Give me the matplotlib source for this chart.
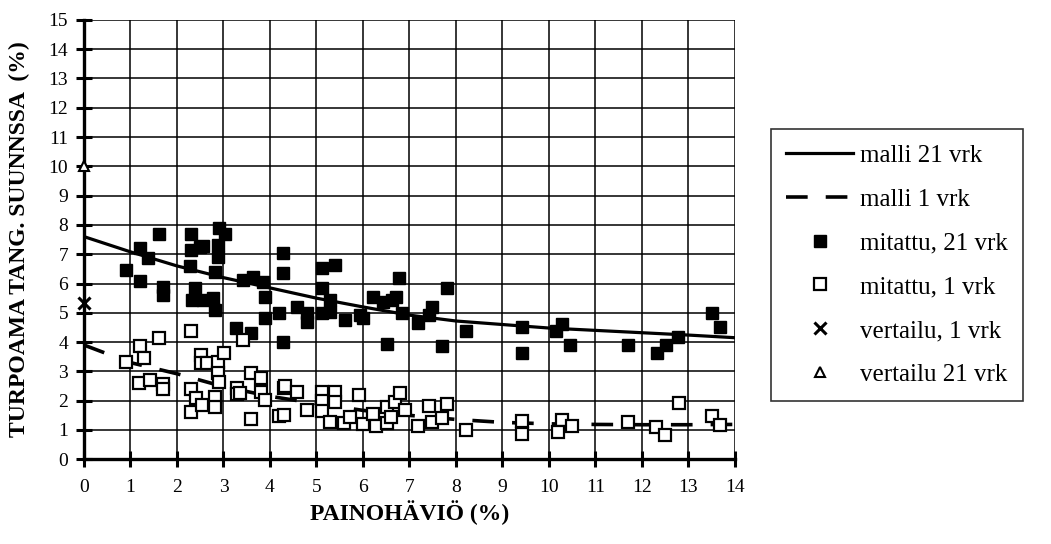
import numpy as np
import matplotlib
matplotlib.use("Agg")
import matplotlib.pyplot as plt

plt.rcParams['font.family'] = ['Liberation Serif', 'DejaVu Serif']

# model curves read at integer weight loss values
model_x = [0, 1, 2, 3, 4, 5, 6, 7, 8, 9, 10, 11, 12, 13, 14]
model_21 = [7.6, 7.08, 6.6, 6.2, 5.85, 5.5, 5.2, 4.92, 4.72, 4.6, 4.48, 4.4, 4.32, 4.24, 4.15]
model_1 = [3.9, 3.3, 2.92, 2.48, 2.15, 1.9, 1.67, 1.5, 1.36, 1.26, 1.21, 1.19, 1.18, 1.18, 1.19]

# measured, 21 days
m21_x = [0.9, 1.2, 1.2, 1.38, 1.61, 1.69, 1.69, 2.3, 2.3, 2.49, 2.57, 2.28, 2.91, 3.03,
         2.89, 2.89, 2.82, 2.39, 2.32, 2.57, 2.78, 2.82, 3.28, 3.42, 3.63, 3.86, 3.9, 3.9,
         4.2, 4.29, 4.29, 4.29, 3.6, 4.59, 4.79, 4.79, 5.11, 5.4, 5.11, 5.11, 5.29, 5.29,
         5.61, 5.94, 6.0, 6.21, 6.44, 6.62, 6.72, 6.78, 6.83, 6.51, 7.19, 7.48, 7.41, 7.8,
         7.69, 8.21, 9.41, 9.41, 10.16, 10.29, 10.45, 11.71, 12.32, 12.52, 12.78, 13.5, 13.68]
m21_y = [6.46, 7.2, 6.1, 6.86, 7.68, 5.89, 5.61, 7.69, 7.14, 7.26, 7.28, 6.6, 7.88, 7.69,
         7.31, 6.9, 6.4, 5.84, 5.44, 5.44, 5.49, 5.1, 4.47, 6.12, 6.23, 6.06, 5.55, 4.81,
         4.98, 7.03, 6.35, 4.01, 4.32, 5.21, 4.98, 4.7, 6.52, 6.63, 5.84, 5.0, 5.44, 5.04,
         4.75, 4.92, 4.81, 5.55, 5.38, 5.44, 5.55, 6.18, 4.98, 3.94, 4.64, 5.21, 4.92, 5.84,
         3.87, 4.38, 4.5, 3.62, 4.39, 4.61, 3.9, 3.9, 3.64, 3.9, 4.19, 5.0, 4.5]

# measured, 1 day
m1_x = [0.9, 1.2, 1.3, 1.61, 1.19, 1.42, 1.71, 1.71, 2.3, 2.3, 2.41, 2.3, 2.51, 2.51,
        2.64, 2.53, 2.82, 2.82, 2.89, 2.89, 3.02, 2.91, 3.3, 3.3, 3.43, 3.6, 3.8, 3.8,
        3.9, 3.35, 3.6, 4.2, 4.3, 4.32, 4.3, 4.59, 4.79, 5.11, 5.4, 5.11, 5.11, 5.29,
        5.4, 5.6, 5.72, 5.91, 5.99, 6.21, 6.29, 6.51, 6.51, 6.6, 6.69, 6.8, 6.9, 7.19,
        7.41, 7.49, 7.69, 7.8, 8.21, 9.41, 9.41, 10.29, 10.2, 10.5, 11.71, 12.3, 12.5,
        12.8, 13.5, 13.68]
m1_y = [3.33, 3.87, 3.45, 4.15, 2.59, 2.71, 2.57, 2.4, 4.38, 2.4, 2.08, 1.63, 3.56, 3.28,
        3.28, 1.85, 2.14, 1.8, 3.33, 2.96, 3.62, 2.65, 2.42, 2.23, 4.07, 2.93, 2.76, 2.31,
        2.02, 2.26, 1.36, 1.48, 2.42, 2.5, 1.5, 2.31, 1.68, 2.31, 2.31, 2.0, 1.66, 1.28,
        1.97, 1.25, 1.45, 2.19, 1.2, 1.55, 1.14, 1.77, 1.23, 1.45, 1.97, 2.25, 1.68, 1.15,
        1.82, 1.28, 1.4, 1.89, 1.0, 1.32, 0.87, 1.34, 0.94, 1.14, 1.28, 1.11, 0.83,
        1.91, 1.48, 1.17]

ref1_x, ref1_y = [0], [5.35]
ref21_x, ref21_y = [0], [10]

fig = plt.figure(figsize=(10.51, 5.44), dpi=100)
ax = fig.add_axes([0.0799, 0.1557, 0.6194, 0.8079])

ax.plot(model_x, model_21, color='black', lw=2.3, label='malli 21 vrk', zorder=4)
ax.plot(model_x, model_1, color='black', lw=2.6, dashes=(6, 5), label='malli 1 vrk', zorder=4)
ax.plot(m21_x, m21_y, 's', color='black', ms=8.5, label='mitattu, 21 vrk', zorder=5)
ax.plot(m1_x, m1_y, 's', mfc='white', mec='black', mew=1.6, ms=8.3,
        label='mitattu, 1 vrk', zorder=5)
ax.plot(ref1_x, ref1_y, 'x', color='black', ms=8, mew=2.2, label='vertailu, 1 vrk',
        zorder=6, clip_on=False)
ax.plot(ref21_x, ref21_y, '^', mfc='white', mec='black', mew=1.5, ms=7,
        label='vertailu 21 vrk', zorder=6, clip_on=False)

ax.set_xlim(0, 14)
ax.set_ylim(0, 15)
ax.set_xticks(np.arange(0, 15, 1))
ax.set_yticks(np.arange(0, 16, 1))
ax.grid(True, color='black', lw=1.1)
ax.set_axisbelow(True)
for s in ['top', 'right']:
    ax.spines[s].set_visible(False)
for s in ['left', 'bottom']:
    ax.spines[s].set_linewidth(2.4)
ax.tick_params(direction='inout', length=11, width=2.2, labelsize=14)
ax.tick_params(axis='x', pad=9)
ax.tick_params(axis='y', pad=6)

ax.set_xlabel('PAINOHÄVIÖ (%)', fontsize=17, fontweight='bold', labelpad=3)
ax.set_ylabel('TURPOAMA TANG. SUUNNSSA  (%)', fontsize=17, fontweight='bold', labelpad=13)

leg = fig.legend(loc='upper left', bbox_to_anchor=(0.7215, 0.785), fontsize=18,
                 frameon=True, fancybox=False, edgecolor='black', handlelength=2.7,
                 handletextpad=0.28, labelspacing=0.85, borderpad=0.6)
leg.get_frame().set_linewidth(1.2)

fig.savefig('out.png', dpi=100)
